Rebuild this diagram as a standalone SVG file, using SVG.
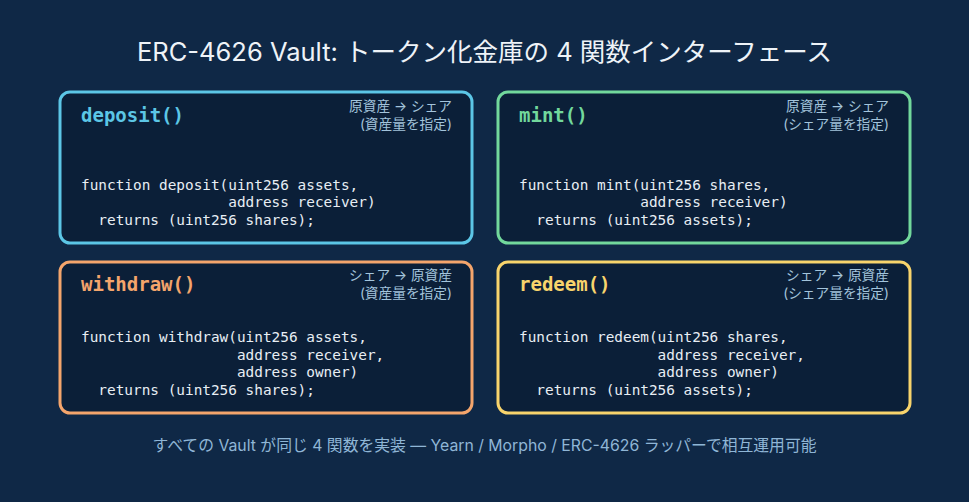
<svg xmlns="http://www.w3.org/2000/svg" width="969" height="502" viewBox="0 0 969 502">
<style>
.bg{fill:#0f2846}
.card{fill:#0b1f38;stroke-width:3}
.title{font-family:Inter,"Noto Sans CJK JP",sans-serif;font-size:25.5px;fill:#eef3f8;text-anchor:middle}
.head{font-family:"DejaVu Sans Mono",monospace;font-weight:bold;font-size:19px}
.note{font-family:Inter,"Noto Sans CJK JP",sans-serif;font-size:13.7px;fill:#a3c4dc;text-anchor:end}
.code{font-family:"DejaVu Sans Mono",monospace;font-size:14.4px;fill:#e8eef4;white-space:pre}
.foot{font-family:Inter,"Noto Sans CJK JP",sans-serif;font-size:15.8px;fill:#8fb6d6;text-anchor:middle}
</style>
<rect class="bg" x="0" y="0" width="969" height="502"/>
<text class="title" x="484.5" y="61">ERC-4626 Vault: トークン化金庫の 4 関数インターフェース</text>
<g id="deposit">
<rect class="card" x="60" y="92" width="412" height="151" rx="10" stroke="#5cc6e6"/>
<text class="head" x="81" y="122" fill="#5cc6e6">deposit()</text>
<text class="note" x="452" y="111">原資産 → シェア</text>
<text class="note" x="452" y="129">(資産量を指定)</text>
<text class="code" xml:space="preserve"><tspan x="81" y="189.5">function deposit(uint256 assets,</tspan><tspan x="81" y="207">                 address receiver)</tspan><tspan x="81" y="224.5">  returns (uint256 shares);</tspan></text>
</g>
<g id="mint">
<rect class="card" x="498" y="92" width="412" height="151" rx="10" stroke="#72d89c"/>
<text class="head" x="519" y="122" fill="#72d89c">mint()</text>
<text class="note" x="889" y="111">原資産 → シェア</text>
<text class="note" x="889" y="129">(シェア量を指定)</text>
<text class="code" xml:space="preserve"><tspan x="519" y="189.5">function mint(uint256 shares,</tspan><tspan x="519" y="207">              address receiver)</tspan><tspan x="519" y="224.5">  returns (uint256 assets);</tspan></text>
</g>
<g id="withdraw">
<rect class="card" x="60" y="262" width="412" height="151" rx="10" stroke="#f4a56c"/>
<text class="head" x="81" y="291" fill="#f4a56c">withdraw()</text>
<text class="note" x="452" y="280">シェア → 原資産</text>
<text class="note" x="452" y="298">(資産量を指定)</text>
<text class="code" xml:space="preserve"><tspan x="81" y="342">function withdraw(uint256 assets,</tspan><tspan x="81" y="359.5">                  address receiver,</tspan><tspan x="81" y="377">                  address owner)</tspan><tspan x="81" y="394.5">  returns (uint256 shares);</tspan></text>
</g>
<g id="redeem">
<rect class="card" x="498" y="262" width="412" height="151" rx="10" stroke="#f8d46c"/>
<text class="head" x="519" y="291" fill="#f8d46c">redeem()</text>
<text class="note" x="889" y="280">シェア → 原資産</text>
<text class="note" x="889" y="298">(シェア量を指定)</text>
<text class="code" xml:space="preserve"><tspan x="519" y="342">function redeem(uint256 shares,</tspan><tspan x="519" y="359.5">                address receiver,</tspan><tspan x="519" y="377">                address owner)</tspan><tspan x="519" y="394.5">  returns (uint256 assets);</tspan></text>
</g>
<g id="connectors"></g>
<text class="foot" x="484.5" y="451">すべての Vault が同じ 4 関数を実装 — Yearn / Morpho / ERC-4626 ラッパーで相互運用可能</text>
</svg>
